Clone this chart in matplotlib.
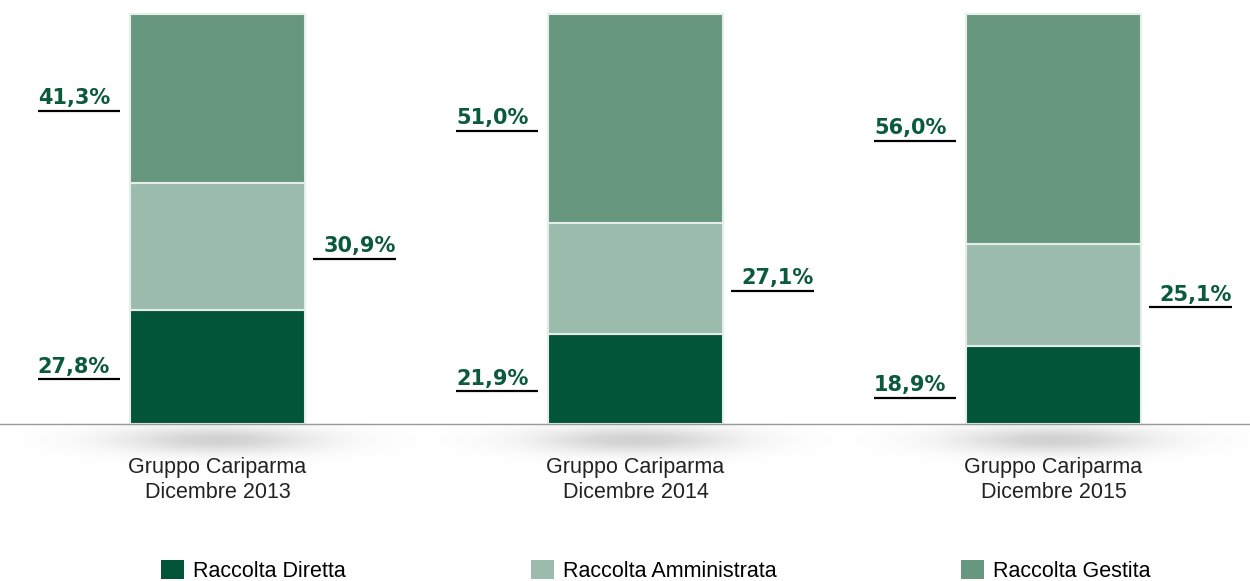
import numpy as np
import matplotlib.pyplot as plt
from matplotlib.patches import Patch

categorie = ["Gruppo Cariparma\nDicembre 2013", "Gruppo Cariparma\nDicembre 2014", "Gruppo Cariparma\nDicembre 2015"]
serie = ["Raccolta Diretta", "Raccolta Amministrata", "Raccolta Gestita"]
diretta = [27.8, 21.9, 18.9]
amministrata = [30.9, 27.1, 25.1]
gestita = [41.3, 51.0, 56.0]
colori = ["#03553a", "#9bbbad", "#68977f"]
lato = ["left", "right", "left"]  # dove sta l'etichetta rispetto alla barra

fig = plt.figure(figsize=(12.5, 5.81), dpi=100)
ax = fig.add_axes([0, 0, 1, 1])
ax.set_xlim(-0.520, 2.470)
ax.set_ylim(-38.3, 103.4)
ax.axis("off")

x = np.arange(len(categorie))
w = 0.419
hw = w / 2

# ombra sotto le barre
gx = np.linspace(-0.5, 0.5, 200)
gy = np.linspace(-10, 0, 60)
GX, GY = np.meshgrid(gx, gy)
inten = np.exp(-(GX / 0.24) ** 2 - ((GY + 4.0) / 3.2) ** 2)
img = np.zeros((60, 200, 4))
img[..., :3] = 0.5
img[..., 3] = 0.36 * inten
for xi in x:
    ax.imshow(img, extent=(xi - 0.5, xi + 0.5, -10, 0), origin="lower",
              aspect="auto", zorder=1, interpolation="bilinear")

ax.axhline(0, color="#9a9a9a", lw=1.0, zorder=3)

valori = [diretta, amministrata, gestita]
bottom = np.zeros(len(x))
for j, vals in enumerate(valori):
    ax.bar(x, vals, w, bottom=bottom, color=colori[j], edgecolor="#e6eee9",
           linewidth=1.5, zorder=2)
    for i, v in enumerate(vals):
        yline = bottom[i] + v / 2 - 3
        if lato[j] == "left":
            x1 = x[i] - hw - 0.024
            x0 = x1 - 0.196
            ax.plot([x0, x1], [yline, yline], color="black", lw=1.6, zorder=4,
                    solid_capstyle="butt")
            ax.text(x0, yline + 1.6, f"{v:.1f}%".replace(".", ","), ha="left",
                    va="baseline", fontsize=15, fontweight="bold", color="#0b5a3b")
        else:
            x0 = x[i] + hw + 0.019
            x1 = x0 + 0.198
            ax.plot([x0, x1], [yline, yline], color="black", lw=1.6, zorder=4,
                    solid_capstyle="butt")
            ax.text(x1, yline + 1.6, f"{v:.1f}%".replace(".", ","), ha="right",
                    va="baseline", fontsize=15, fontweight="bold", color="#0b5a3b")
    bottom = bottom + np.array(vals)

for i, c in enumerate(categorie):
    ax.text(x[i], -13.6, c, ha="center", va="center", fontsize=15.5,
            family="Liberation Sans", color="#222222", linespacing=1.25)

handles = [Patch(facecolor=colori[j], edgecolor="none", label=serie[j]) for j in range(3)]
fig.legend(handles=handles, loc="center", bbox_to_anchor=(656 / 1250, 10 / 581),
           ncol=3, frameon=False, prop={"family": "Liberation Sans", "size": 15.5},
           handlelength=1.05, handleheight=1.0, handletextpad=0.42,
           columnspacing=8.6, borderpad=0)

fig.savefig("out.png", dpi=100)
